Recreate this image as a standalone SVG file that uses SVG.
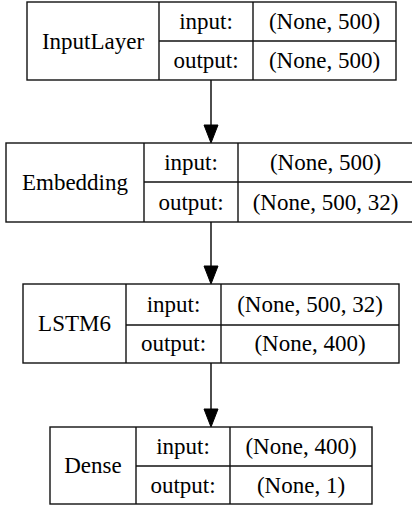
<svg xmlns="http://www.w3.org/2000/svg" width="412" height="506" viewBox="0 0 412 506">
<style>
  .box { fill: #fff; stroke: #111; stroke-width: 1.4; }
  .ln { stroke: #111; stroke-width: 1.4; fill: none; }
  text { font-family: 'Liberation Serif', 'Times New Roman', serif; font-size: 23px; fill: #000; text-anchor: middle; }
  .edge { stroke: #000; stroke-width: 1.4; fill: none; }
  .head { fill: #000; stroke: #000; stroke-width: 1; }
</style>
<rect width="412" height="506" fill="#fff"/>
<g id="connectors">
  <line class="edge" x1="211" y1="80" x2="211" y2="126"/>
  <polygon class="head" points="204,125 218,125 211,143"/>
  <line class="edge" x1="211" y1="222" x2="211" y2="267"/>
  <polygon class="head" points="204,266 218,266 211,284"/>
  <line class="edge" x1="211" y1="363" x2="211" y2="410"/>
  <polygon class="head" points="204,409 218,409 211,427"/>
</g>
<g id="node-inputlayer">
  <rect class="box" x="27" y="2" width="369" height="78"/>
  <line class="ln" x1="159" y1="2" x2="159" y2="80"/>
  <line class="ln" x1="253" y1="2" x2="253" y2="80"/>
  <line class="ln" x1="159" y1="41" x2="396" y2="41"/>
  <text x="93" y="49">InputLayer</text>
  <text x="206" y="29">input:</text>
  <text x="206" y="68">output:</text>
  <text x="324.5" y="29">(None, 500)</text>
  <text x="324.5" y="68">(None, 500)</text>
</g>
<g id="node-embedding">
  <rect class="box" x="6" y="143" width="407" height="79"/>
  <line class="ln" x1="144" y1="143" x2="144" y2="222"/>
  <line class="ln" x1="238" y1="143" x2="238" y2="222"/>
  <line class="ln" x1="144" y1="182" x2="413" y2="182"/>
  <text x="75" y="190">Embedding</text>
  <text x="191" y="170">input:</text>
  <text x="191" y="210">output:</text>
  <text x="325.5" y="170">(None, 500)</text>
  <text x="325.5" y="210">(None, 500, 32)</text>
</g>
<g id="node-lstm6">
  <rect class="box" x="23" y="284" width="376" height="79"/>
  <line class="ln" x1="126" y1="284" x2="126" y2="363"/>
  <line class="ln" x1="221" y1="284" x2="221" y2="363"/>
  <line class="ln" x1="126" y1="325" x2="399" y2="325"/>
  <text x="74.5" y="331">LSTM6</text>
  <text x="173.5" y="312">input:</text>
  <text x="173.5" y="351">output:</text>
  <text x="310" y="312">(None, 500, 32)</text>
  <text x="310" y="351">(None, 400)</text>
</g>
<g id="node-dense">
  <rect class="box" x="50" y="427" width="322" height="77"/>
  <line class="ln" x1="136" y1="427" x2="136" y2="504"/>
  <line class="ln" x1="230" y1="427" x2="230" y2="504"/>
  <line class="ln" x1="136" y1="466" x2="372" y2="466"/>
  <text x="93" y="473">Dense</text>
  <text x="183" y="454">input:</text>
  <text x="183" y="493">output:</text>
  <text x="301" y="454">(None, 400)</text>
  <text x="301" y="493">(None, 1)</text>
</g>
</svg>
